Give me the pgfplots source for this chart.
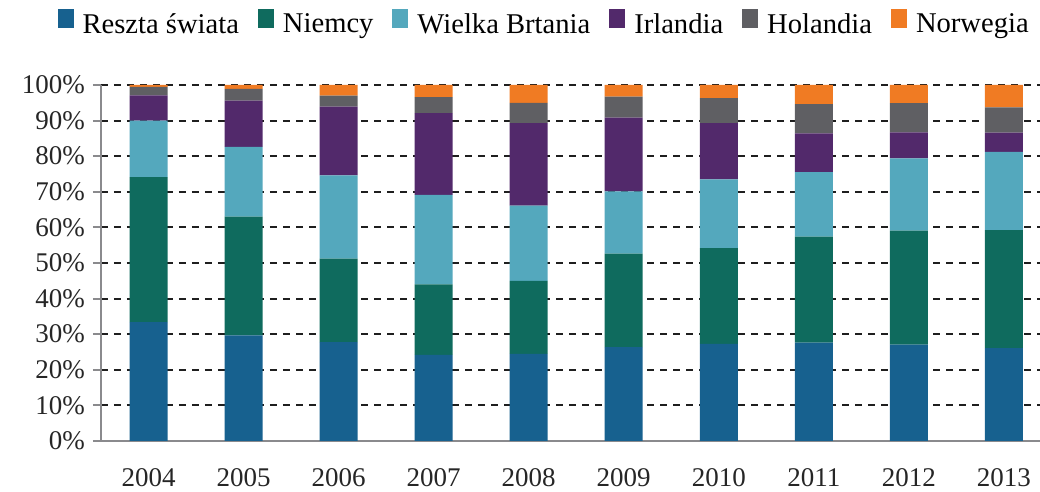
\documentclass[border=0pt]{standalone}
\usepackage{fontspec}
\setmainfont{Liberation Serif}
\usepackage{pgfplots}
\usepackage{pgfplotstable}
\pgfplotsset{compat=1.18}
\definecolor{cR}{HTML}{17618F}
\definecolor{cN}{HTML}{0F6B5E}
\definecolor{cW}{HTML}{54A8BD}
\definecolor{cI}{HTML}{52296B}
\definecolor{cH}{HTML}{5F5F63}
\definecolor{cO}{HTML}{F07B23}
\definecolor{axgray}{HTML}{8A8A8D}
\pgfplotstableread{
x R N W I H O
0 33.4 40.7 15.9 7.1 2.4 0.5
1 29.7 33.3 19.6 13.0 3.3 1.1
2 27.8 23.4 23.4 19.3 3.1 3.0
3 24.2 19.8 25.1 23.0 4.5 3.4
4 24.5 20.5 21.1 23.2 5.7 5.0
5 26.4 26.2 17.5 20.7 5.9 3.3
6 27.3 26.9 19.3 15.8 7.0 3.7
7 27.6 29.8 18.1 10.9 8.2 5.4
8 27.1 32.0 20.3 7.3 8.2 5.1
9 26.1 33.1 22.0 5.4 7.1 6.3
}\data
\begin{document}
\begin{tikzpicture}
\useasboundingbox (-50.5pt,-25.5pt) rectangle (469.5pt,220.5pt);
\begin{axis}[
  at={(0pt,0pt)}, anchor=south west,
  scale only axis, width=469.5pt, height=178pt,
  ybar stacked, bar width=0.4,
  xmin=-0.5, xmax=9.38, ymin=0, ymax=100,
  xtick={0,...,9},
  xticklabels={2004,2005,2006,2007,2008,2009,2010,2011,2012,2013},
  major x tick style={draw=none},
  extra x ticks={-0.5,0.5,1.5,2.5,3.5,4.5,5.5,6.5,7.5,8.5},
  extra x tick labels={},
  extra x tick style={grid=none, tick align=outside, major tick length=4.5pt,
     tick style={draw=axgray, line width=1pt}},
  ytick={0,10,...,100},
  yticklabel={\pgfmathprintnumber{\tick}\%},
  /pgf/number format/assume math mode=true,
  ytick style={draw=axgray, line width=1pt},
  ytick align=outside, major tick length=4pt,
  ymajorgrids,
  grid style={black!88, line width=1pt, dash pattern=on 3.6pt off 2.9pt},
  axis lines*=left,
  axis line style={draw=axgray, line width=1pt},
  tick label style={font=\fontsize{13.5}{15}\selectfont, text=black!85},
  yticklabel style={xshift=-0.5pt},
  xticklabel style={yshift=-10pt},
  legend style={draw=none, font=\fontsize{14.3}{16}\selectfont,
    at={(0.473,1.169)}, anchor=center, legend columns=6,
    /tikz/every even column/.append style={column sep=7.5pt},
    /tikz/every odd column/.append style={column sep=2.5pt},
    inner sep=0pt},
  legend cell align=left,
  legend image code/.code={\fill[#1] (0pt,-0.15em) rectangle (8pt,7.9pt);},
]
\addplot[fill=cR, draw=none] table[x=x,y=R]{\data};
\addplot[fill=cN, draw=none] table[x=x,y=N]{\data};
\addplot[fill=cW, draw=none] table[x=x,y=W]{\data};
\addplot[fill=cI, draw=none] table[x=x,y=I]{\data};
\addplot[fill=cH, draw=none] table[x=x,y=H]{\data};
\addplot[fill=cO, draw=none] table[x=x,y=O]{\data};
\legend{Reszta świata, Niemcy, Wielka Brtania, Irlandia, Holandia, Norwegia}
\end{axis}
\end{tikzpicture}
\end{document}
